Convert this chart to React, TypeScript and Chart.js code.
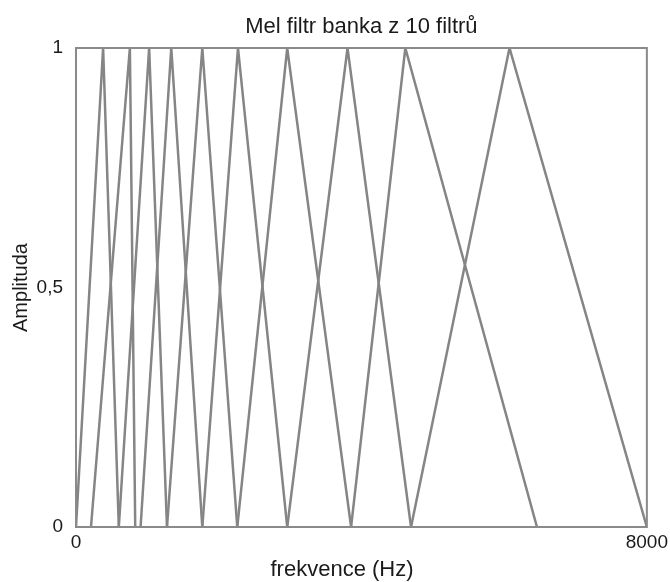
import React, { useEffect, useRef } from "react";
import { Chart, registerables } from "chart.js";

Chart.register(...registerables);

const chartTitle = "Mel filtr banka z 10 filtrů";
const xAxisTitle = "frekvence (Hz)";
const yAxisTitle = "Amplituda";

const xTickValues = [0, 8000];
const xTickLabels = ["0", "8000"];
const yTickValues = [0, 0.5, 1];
const yTickLabels = ["0", "0,5", "1"];

// each triangular filter: start frequency, peak frequency, end frequency (Hz)
const filterStarts = [0, 210, 600, 905, 1275, 1770, 2260, 2960, 3855, 4695];
const filterPeaks = [380, 755, 1025, 1335, 1770, 2270, 2960, 3805, 4615, 6075];
const filterEnds = [600, 830, 1275, 1770, 2260, 2960, 3855, 4695, 6460, 8000];
const filterShape = [0, 1, 0];

const FONT = '"Liberation Sans", Arial, sans-serif';
const TEXT = "#1a1a1a";
const LINE = "#858585";

const framePlugin = {
  id: "frameAndXTitle",
  afterDatasetsDraw(chart: any) {
    const { ctx, chartArea } = chart;
    ctx.save();
    ctx.strokeStyle = "#8a8a8a";
    ctx.lineWidth = 2;
    ctx.strokeRect(
      chartArea.left,
      chartArea.top,
      chartArea.right - chartArea.left,
      chartArea.bottom - chartArea.top
    );
    ctx.restore();
  },
  afterDraw(chart: any) {
    const { ctx } = chart;
    ctx.save();
    ctx.font = `22px ${FONT}`;
    ctx.fillStyle = TEXT;
    ctx.textAlign = "center";
    ctx.textBaseline = "middle";
    ctx.fillText(xAxisTitle, 342, 570);
    ctx.restore();
  },
};

export default function App() {
  const ref = useRef<HTMLCanvasElement | null>(null);

  useEffect(() => {
    if (!ref.current) return;
    const datasets = filterPeaks.map((peak, i) => {
      const xs = [filterStarts[i], peak, filterEnds[i]];
      return {
        label: `Filtr ${i + 1}`,
        data: xs.map((x, j) => ({ x, y: filterShape[j] })),
        showLine: true,
        borderColor: LINE,
        backgroundColor: LINE,
        borderWidth: 2.5,
        pointRadius: 0,
        tension: 0,
        fill: false,
      };
    });

    const chart = new Chart(ref.current, {
      type: "scatter",
      data: { datasets },
      plugins: [framePlugin],
      options: {
        animation: false,
        responsive: false,
        layout: { padding: { left: 0, right: 0, top: 0, bottom: 0 } },
        plugins: {
          legend: { display: false },
          tooltip: { enabled: false },
          title: {
            display: true,
            text: chartTitle,
            fullSize: false,
            color: TEXT,
            font: { family: FONT, size: 22, weight: "normal" },
            padding: { top: 14, bottom: 7.6 },
          },
        },
        scales: {
          x: {
            type: "linear",
            min: 0,
            max: 8000,
            grid: { display: false, drawTicks: false },
            border: { display: false },
            afterBuildTicks: (scale: any) => {
              scale.ticks = xTickValues.map((v) => ({ value: v }));
            },
            afterFit: (scale: any) => {
              scale.height = 55;
            },
            ticks: {
              autoSkip: false,
              maxRotation: 0,
              padding: 2,
              color: TEXT,
              font: { family: FONT, size: 19, lineHeight: "28px" },
              callback: (v: any) => {
                const i = xTickValues.indexOf(Number(v));
                return i >= 0 ? xTickLabels[i] : "";
              },
            },
          },
          y: {
            type: "linear",
            min: 0,
            max: 1,
            grid: { display: false, drawTicks: false },
            border: { display: false },
            afterBuildTicks: (scale: any) => {
              scale.ticks = yTickValues.map((v) => ({ value: v }));
            },
            afterFit: (scale: any) => {
              scale.width = 76;
            },
            ticks: {
              autoSkip: false,
              padding: 13,
              color: TEXT,
              font: { family: FONT, size: 19 },
              callback: (v: any) => {
                const i = yTickValues.indexOf(Number(v));
                return i >= 0 ? yTickLabels[i] : "";
              },
            },
            title: {
              display: true,
              text: yAxisTitle,
              color: TEXT,
              font: { family: FONT, size: 20 },
              padding: { top: 9, bottom: 0 },
            },
          },
        },
      },
    } as any);

    return () => chart.destroy();
  }, []);

  return (
    <div style={{ position: "fixed", left: 0, top: 0, width: 670, height: 582, background: "#fff" }}>
      <canvas ref={ref} width={670} height={582} style={{ width: 670, height: 582 }} />
    </div>
  );
}
